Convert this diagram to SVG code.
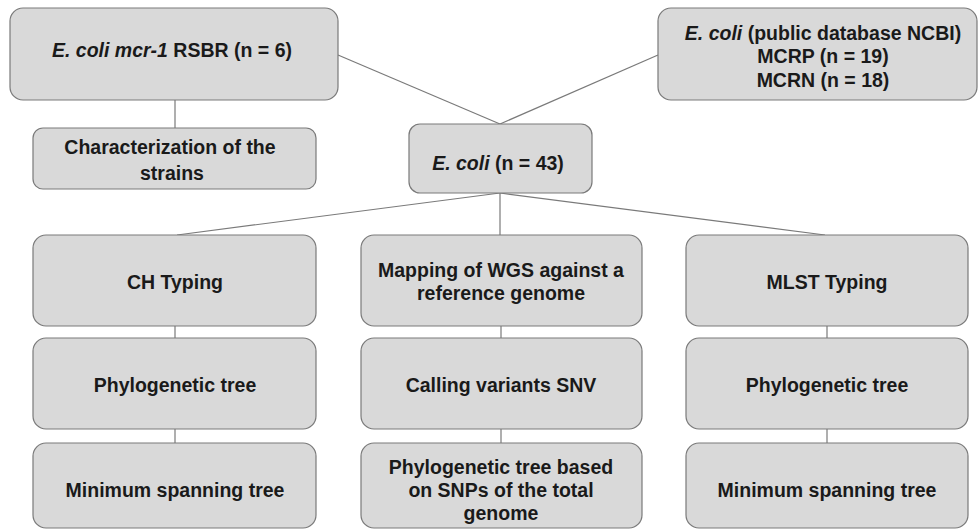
<svg xmlns="http://www.w3.org/2000/svg" width="979" height="530" viewBox="0 0 979 530">
<style>
.box{fill:#d9d9d9;stroke:#7a7a7a;stroke-width:1.2}
.t{font-family:"Liberation Sans",Arial,sans-serif;font-weight:bold;font-size:19.5px;fill:#1a1a1a;text-anchor:middle}
.i{font-style:italic}
.c{stroke:#7a7a7a;stroke-width:1.2;fill:none}
</style>
<rect width="979" height="530" fill="#ffffff"/>
<g id="connectors">
<line class="c" x1="175" y1="100" x2="175" y2="128"/>
<line class="c" x1="338" y1="55" x2="500" y2="124"/>
<line class="c" x1="658" y1="55" x2="500" y2="124"/>
<line class="c" x1="500" y1="193" x2="177" y2="235"/>
<line class="c" x1="500" y1="193" x2="500" y2="235"/>
<line class="c" x1="500" y1="193" x2="825" y2="235"/>
<line class="c" x1="175" y1="326" x2="175" y2="338"/>
<line class="c" x1="175" y1="429" x2="175" y2="443"/>
<line class="c" x1="501" y1="326" x2="501" y2="338"/>
<line class="c" x1="501" y1="429" x2="501" y2="443"/>
<line class="c" x1="827" y1="326" x2="827" y2="338"/>
<line class="c" x1="827" y1="429" x2="827" y2="443"/>
</g>
<g id="n-rsbr">
<rect class="box" x="10" y="8" width="328" height="92" rx="13"/>
<text class="t" x="172" y="57"><tspan class="i">E. coli mcr-1</tspan> RSBR (n = 6)</text>
</g>
<g id="n-char">
<rect class="box" x="33" y="128" width="283" height="61" rx="10"/>
<text class="t" x="170" y="154">Characterization of the</text>
<text class="t" x="172" y="180">strains</text>
</g>
<g id="n-ncbi">
<rect class="box" x="658" y="8" width="319" height="92" rx="13"/>
<text class="t" x="823" y="40"><tspan class="i">E. coli</tspan> (public database NCBI)</text>
<text class="t" x="823" y="63">MCRP (n = 19)</text>
<text class="t" x="823" y="87">MCRN (n = 18)</text>
</g>
<g id="n-ecoli">
<rect class="box" x="409" y="124" width="183" height="69" rx="11"/>
<text class="t" x="498" y="170"><tspan class="i">E. coli</tspan> (n = 43)</text>
</g>
<g id="n-ch">
<rect class="box" x="33" y="235" width="283" height="91" rx="13"/>
<text class="t" x="175" y="289">CH Typing</text>
</g>
<g id="n-phylo1">
<rect class="box" x="33" y="338" width="283" height="91" rx="13"/>
<text class="t" x="175" y="392">Phylogenetic tree</text>
</g>
<g id="n-mst1">
<rect class="box" x="33" y="443" width="283" height="85" rx="13"/>
<text class="t" x="175" y="497">Minimum spanning tree</text>
</g>
<g id="n-map">
<rect class="box" x="361" y="235" width="281" height="91" rx="13"/>
<text class="t" x="501" y="277">Mapping of WGS against a</text>
<text class="t" x="501" y="300">reference genome</text>
</g>
<g id="n-snv">
<rect class="box" x="361" y="338" width="281" height="91" rx="13"/>
<text class="t" x="501" y="392">Calling variants SNV</text>
</g>
<g id="n-phylosnp">
<rect class="box" x="361" y="443" width="281" height="85" rx="13"/>
<text class="t" x="501" y="474">Phylogenetic tree based</text>
<text class="t" x="501" y="497">on SNPs of the total</text>
<text class="t" x="501" y="520">genome</text>
</g>
<g id="n-mlst">
<rect class="box" x="686" y="235" width="282" height="91" rx="13"/>
<text class="t" x="827" y="289">MLST Typing</text>
</g>
<g id="n-phylo2">
<rect class="box" x="686" y="338" width="282" height="91" rx="13"/>
<text class="t" x="827" y="392">Phylogenetic tree</text>
</g>
<g id="n-mst2">
<rect class="box" x="686" y="443" width="282" height="85" rx="13"/>
<text class="t" x="827" y="497">Minimum spanning tree</text>
</g>
</svg>
